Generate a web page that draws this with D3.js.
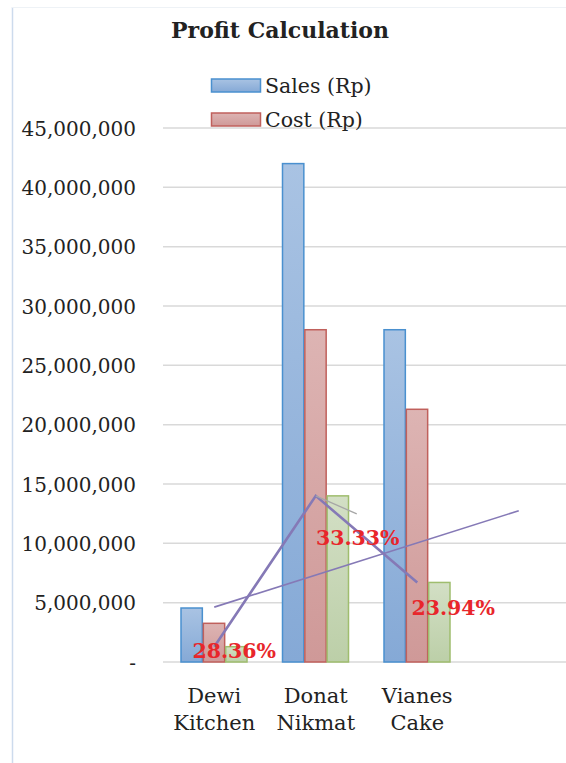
<!DOCTYPE html>
<html><head><meta charset="utf-8">
<script src="https://cdn.jsdelivr.net/npm/d3@7"></script>
<style>
html,body{margin:0;padding:0;background:#fff;}
svg{display:block;}
text{font-family:"DejaVu Serif","Liberation Serif",serif;}
</style></head>
<body><div id="chart"></div>
<script>
const categories = ["Dewi Kitchen", "Donat Nikmat", "Vianes Cake"];
const sales = [4550000, 42000000, 28000000];
const cost = [3260000, 28000000, 21296000];
const profit = [1290000, 14000000, 6704000];
const profitPct = ["28.36%", "33.33%", "23.94%"];
const seriesNames = ["Sales (Rp)", "Cost (Rp)"];
const yTicks = [0, 5000000, 10000000, 15000000, 20000000, 25000000, 30000000, 35000000, 40000000, 45000000];

const W = 566, H = 763;
const svg = d3.select("#chart").append("svg").attr("width", W).attr("height", H);
const defs = svg.append("defs");
function grad(id, top, bottom) {
  const g = defs.append("linearGradient").attr("id", id).attr("x1", 0).attr("y1", 0).attr("x2", 0).attr("y2", 1);
  g.append("stop").attr("offset", "0%").attr("stop-color", top);
  g.append("stop").attr("offset", "100%").attr("stop-color", bottom);
}
grad("gS", "#a9c3e3", "#85a9d6");
grad("gC", "#ddb4b3", "#cf9998");
grad("gP", "#d3dfc5", "#bccfa8");
const fills = {sales: "url(#gS)", cost: "url(#gC)", profit: "url(#gP)"};
const strokes = {sales: "#4a90cf", cost: "#c0605c", profit: "#9fbd6e"};

// chart border
svg.append("line").attr("x1", 12.5).attr("x2", 12.5).attr("y1", 7).attr("y2", H).attr("stroke", "#cddbed").attr("stroke-width", 1.5);
svg.append("line").attr("x1", 12).attr("x2", W).attr("y1", 7.5).attr("y2", 7.5).attr("stroke", "#eef2f6").attr("stroke-width", 1);

const y = d3.scaleLinear().domain([0, 45000000]).range([662, 128]);
const slots = categories.concat([""]);
const x = d3.scaleBand().domain(d3.range(slots.length)).range([163.5, 569.5]);
const xs = d3.scaleBand().domain(["sales", "cost", "profit"]).range([17, 84]);

// gridlines
svg.append("g").selectAll("line").data(yTicks).join("line")
  .attr("x1", 163).attr("x2", W).attr("y1", d => y(d)).attr("y2", d => y(d))
  .attr("stroke", "#d9d9d9").attr("stroke-width", 1.5);

// y axis
const yAxis = svg.append("g").attr("transform", "translate(136,0)")
  .call(d3.axisLeft(y).tickValues(yTicks).tickSize(0).tickPadding(0)
    .tickFormat(d => d === 0 ? "-  " : d3.format(",")(d)));
yAxis.select(".domain").remove();
yAxis.selectAll("text").attr("font-family", "DejaVu Serif").attr("font-size", 20).attr("fill", "#222").attr("dy", "0.35em");

// bars
const rows = categories.map((c, i) => ({i, sales: sales[i], cost: cost[i], profit: profit[i]}));
const grp = svg.append("g").selectAll("g").data(rows).join("g").attr("transform", d => `translate(${x(d.i)},0)`);
grp.selectAll("rect").data(d => ["sales", "cost", "profit"].map(k => ({k, v: d[k]}))).join("rect")
  .attr("x", d => xs(d.k) + 0.5).attr("width", xs.bandwidth() - 1)
  .attr("y", d => y(d.v)).attr("height", d => y(0) - y(d.v))
  .attr("fill", d => fills[d.k]).attr("stroke", d => strokes[d.k]).attr("stroke-width", 1.5);

// trendline (linear fit of profit, forecast forward 1 period)
const xi = categories.map((c, i) => i + 1);
const mx = d3.mean(xi), my = d3.mean(profit);
const slope = d3.sum(xi.map((v, i) => (v - mx) * (profit[i] - my))) / d3.sum(xi.map(v => (v - mx) * (v - mx)));
const icpt = my - slope * mx;
const cx = i => x(i) + x.bandwidth() / 2;
svg.append("line")
  .attr("x1", cx(0)).attr("y1", y(icpt + slope * 1))
  .attr("x2", cx(3)).attr("y2", y(icpt + slope * 4))
  .attr("stroke", "#8579b6").attr("stroke-width", 1.6);

// profit line
svg.append("path").datum(profit)
  .attr("d", d3.line().x((d, i) => cx(i)).y(d => y(d)))
  .attr("fill", "none").attr("stroke", "#8579b6").attr("stroke-width", 2.6);

// leader line for middle label
svg.append("line").attr("x1", cx(1)).attr("y1", y(profit[1])).attr("x2", cx(1) + 41).attr("y2", y(profit[1]) + 18)
  .attr("stroke", "#a6a6a6").attr("stroke-width", 1.3);

// data labels
const lblOff = [[20, 11], [42, 49], [36, 33]];
svg.append("g").selectAll("text").data(profitPct).join("text")
  .attr("x", (d, i) => cx(i) + lblOff[i][0]).attr("y", (d, i) => y(profit[i]) + lblOff[i][1])
  .attr("text-anchor", "middle").attr("font-size", 20.5).attr("font-weight", "bold").attr("fill", "#e8262b")
  .text(d => d);

// x labels
svg.append("g").selectAll("text").data(categories).join("text")
  .attr("x", (d, i) => cx(i)).attr("y", 703)
  .attr("text-anchor", "middle").attr("font-size", 21).attr("fill", "#222")
  .each(function(d) {
    const parts = d.split(" ");
    d3.select(this).selectAll("tspan").data(parts).join("tspan")
      .attr("x", d3.select(this).attr("x")).attr("dy", (p, j) => j === 0 ? 0 : 27).text(p => p);
  });

// title
svg.append("text").attr("x", 280).attr("y", 38).attr("text-anchor", "middle")
  .attr("font-size", 22).attr("font-weight", "bold").attr("fill", "#222").text("Profit Calculation");

// legend
const leg = svg.append("g");
const legKeys = ["sales", "cost"];
legKeys.forEach((k, i) => {
  const ly = 86 + i * 34;
  leg.append("rect").attr("x", 211.5).attr("y", ly - 7).attr("width", 49).attr("height", 13)
    .attr("fill", fills[k]).attr("stroke", strokes[k]).attr("stroke-width", 1.5);
  leg.append("text").attr("x", 265).attr("y", ly).attr("dy", "0.35em")
    .attr("font-size", 20.5).attr("fill", "#222").text(seriesNames[i]);
});
</script></body></html>
